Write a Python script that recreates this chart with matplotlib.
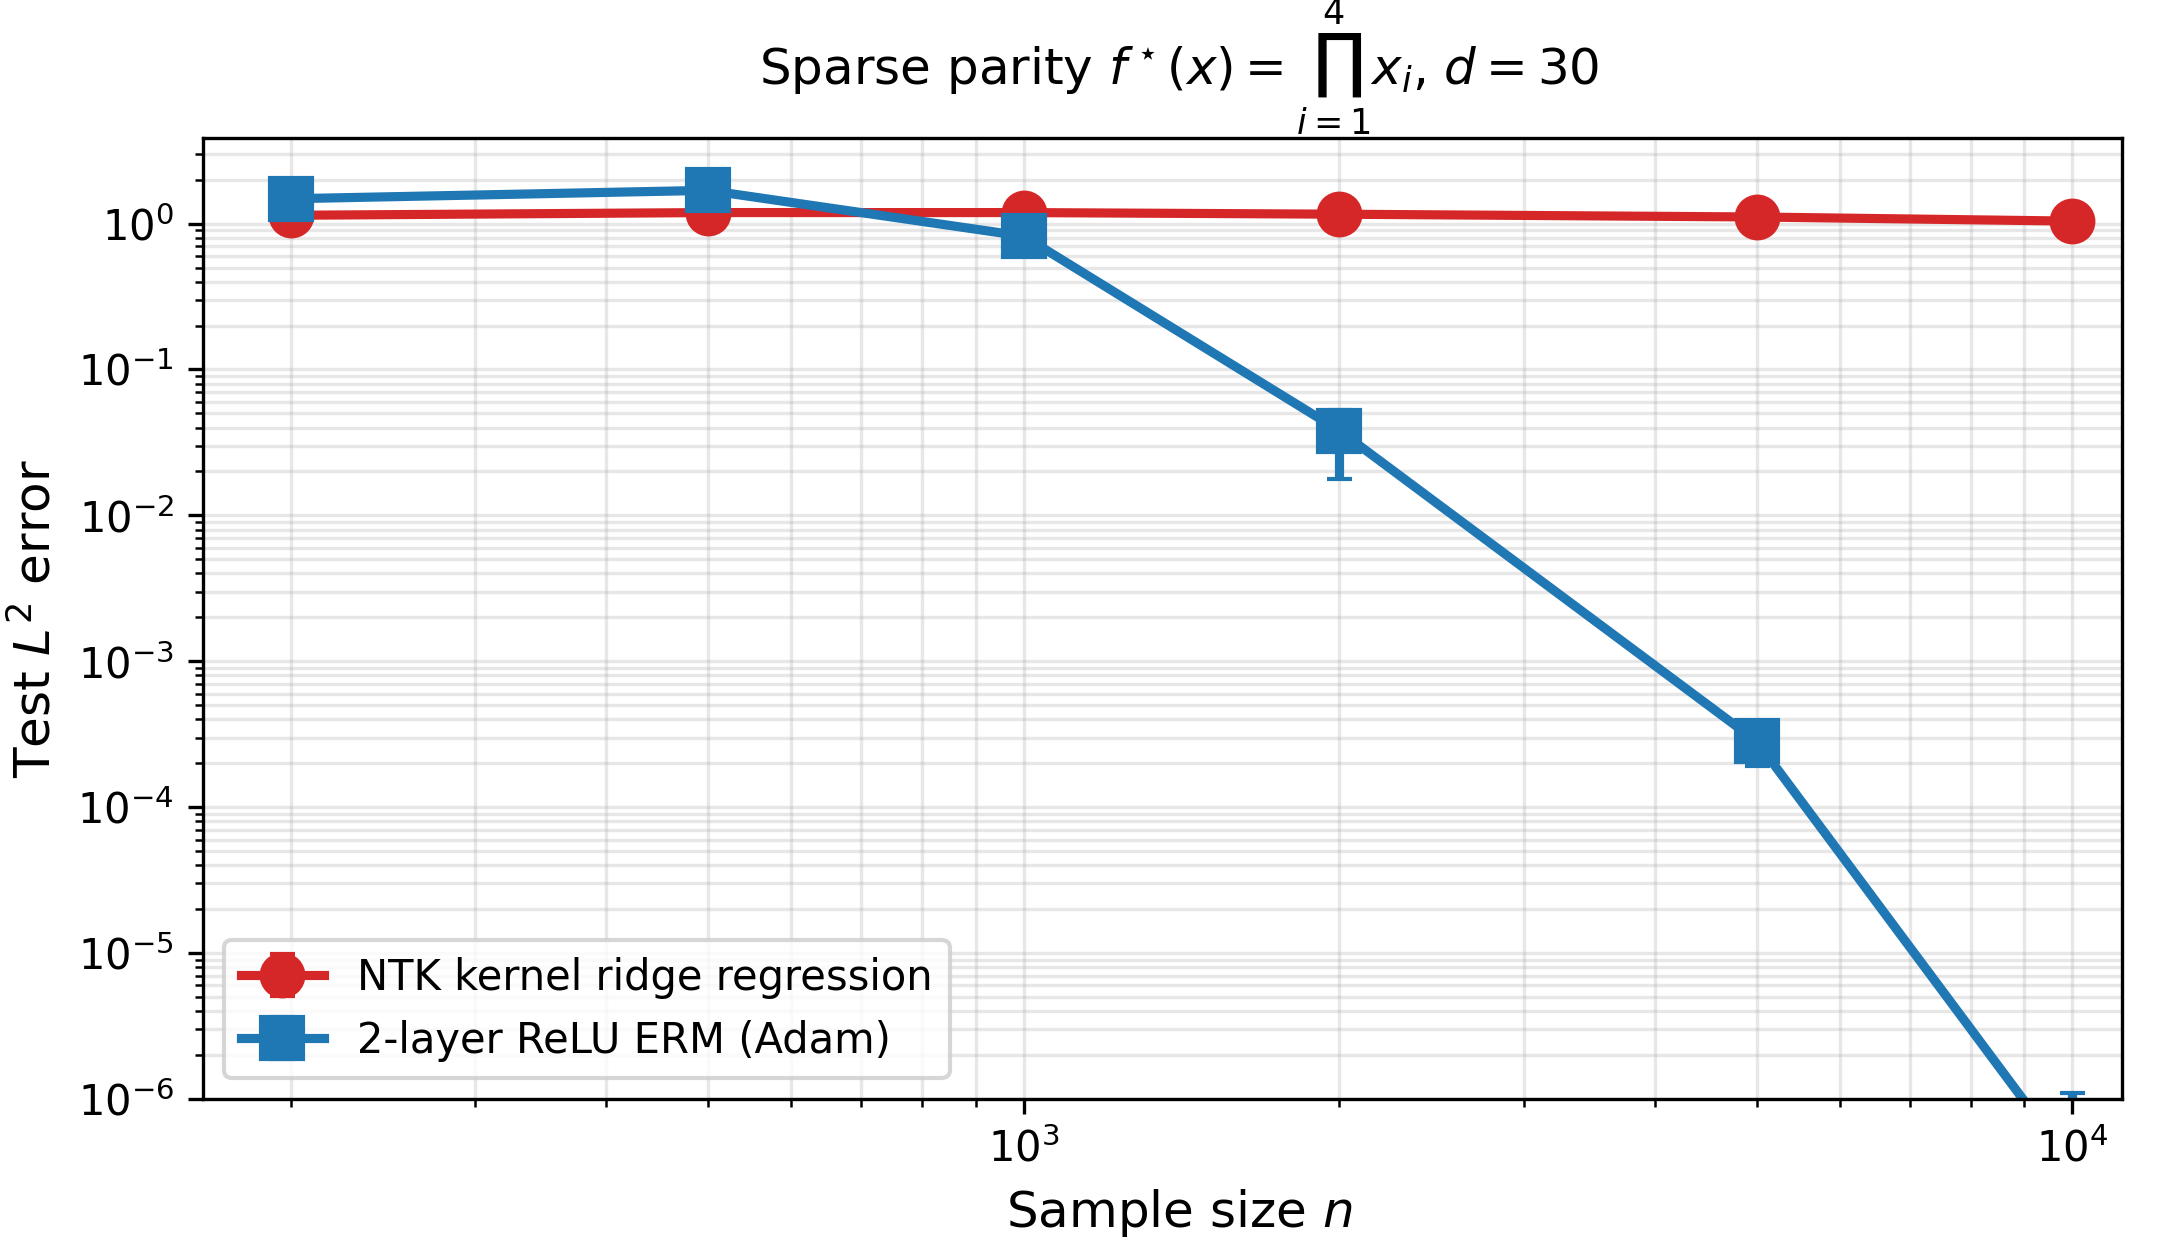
import numpy as np
import matplotlib
matplotlib.use("Agg")
import matplotlib.pyplot as plt

# sample sizes
n_vals = [200, 500, 1000, 2000, 5000, 10000]

# NTK kernel ridge regression
ntk_mean = [1.14, 1.19, 1.19, 1.16, 1.11, 1.04]
ntk_err = [0.02, 0.02, 0.02, 0.02, 0.02, 0.02]

# 2-layer ReLU ERM (Adam)
nn_mean = [1.48, 1.69, 0.82, 0.0381, 2.83e-4, 3.5e-7]
nn_err_lo = [0.05, 0.05, 0.05, 0.0203, 9.0e-5, 2.0e-7]
nn_err_hi = [0.05, 0.05, 0.05, 0.0147, 6.0e-5, 7.5e-7]

fig = plt.figure(figsize=(2165 / 300, 1240 / 300), dpi=300)
ax = fig.add_axes([0.0938, 0.1137, 0.8863, 0.7750])

ax.errorbar(n_vals, ntk_mean, yerr=ntk_err, color='tab:red', marker='o',
            markersize=10, linewidth=2.2, capsize=3,
            label='NTK kernel ridge regression')
ax.errorbar(n_vals, nn_mean, yerr=[nn_err_lo, nn_err_hi], color='tab:blue',
            marker='s', markersize=10, linewidth=2.2, capsize=3,
            label='2-layer ReLU ERM (Adam)')

ax.set_xscale('log')
ax.set_yscale('log')
ax.set_xlim(165, 11150)
ax.set_ylim(1e-6, 3.86)

ax.set_xlabel('Sample size $n$', fontsize=12, x=0.5085)
ax.set_ylabel('Test $L^2$ error', fontsize=12)
ax.set_title(r'Sparse parity $f^\star(x) = \prod_{i=1}^{4} x_i$, $d = 30$',
             fontsize=12, x=0.5085)
ax.tick_params(labelsize=10)
ax.grid(True, which='both', alpha=0.3)
ax.legend(loc='lower left', fontsize=10)

fig.savefig('out.png', dpi=300)
